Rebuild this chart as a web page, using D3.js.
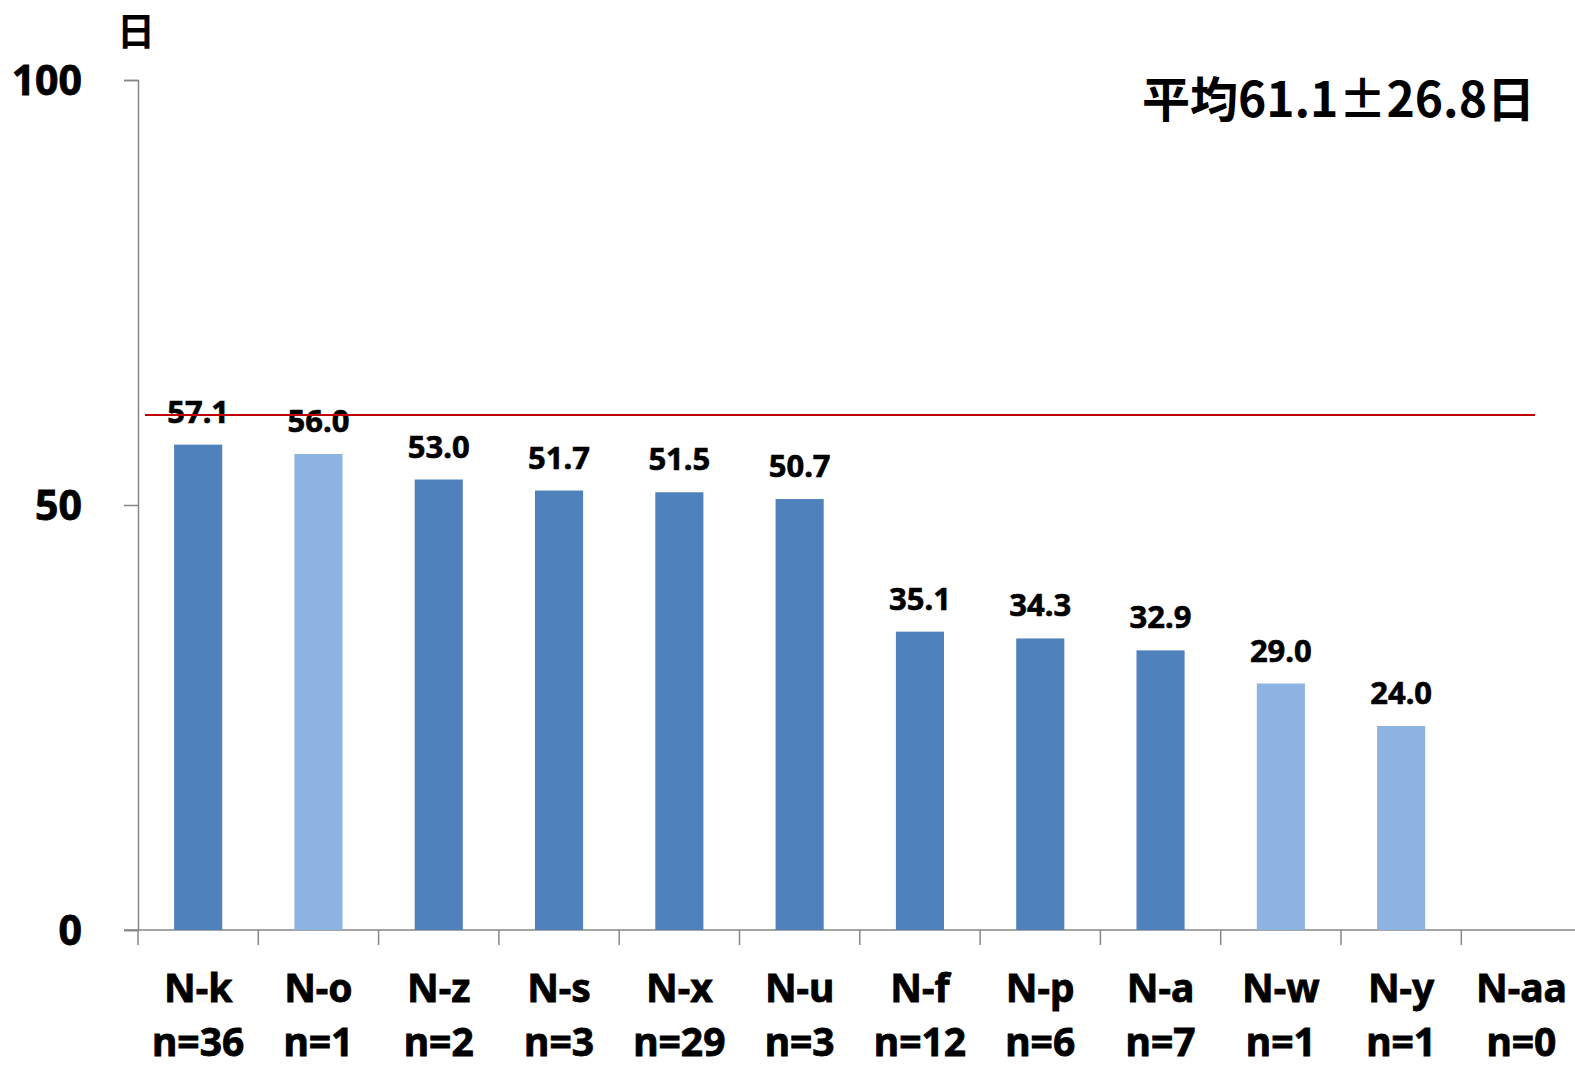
<!DOCTYPE html>
<html>
<head>
<meta charset="utf-8">
<script src="https://cdn.jsdelivr.net/npm/d3@7"></script>
<style>
  body { margin: 0; background: #fff; }
  .val { font-family: "Noto Sans", "Open Sans", sans-serif; font-weight: bold; font-size: 31px; fill: #000; stroke: #000; stroke-width: 0.6px; }
  .cat { font-family: "Noto Sans", "Open Sans", sans-serif; font-weight: bold; font-size: 39px; fill: #000; stroke: #000; stroke-width: 0.8px; }
  .yaxis text { font-family: "Noto Sans", "Open Sans", sans-serif; font-weight: bold; font-size: 41px; fill: #000; stroke: #000; stroke-width: 0.8px; }
  .jp { font-family: "Noto Sans CJK JP", sans-serif; font-weight: bold; fill: #000; }
</style>
</head>
<body>
<div class="chart"></div>
<script>
var categories = ["N-k", "N-o", "N-z", "N-s", "N-x", "N-u", "N-f", "N-p", "N-a", "N-w", "N-y", "N-aa"];
var counts = [36, 1, 2, 3, 29, 3, 12, 6, 7, 1, 1, 0];
var days = [57.1, 56.0, 53.0, 51.7, 51.5, 50.7, 35.1, 34.3, 32.9, 29.0, 24.0, null];
var yTicks = [0, 50, 100];
var meanLine = 60.6;
var meanText = "平均61.1±26.8日";
var yUnit = "日";

var svgWidth = 1575;
var svgHeight = 1068;

var x0 = 138, x1 = 1581.6;
var yTop = 80, yBottom = 930;

var svg = d3
  .select(".chart")
  .append("svg")
  .attr("width", svgWidth)
  .attr("height", svgHeight);

var xScale = d3.scaleBand()
  .domain(categories)
  .range([x0, x1])
  .paddingInner(0.6)
  .paddingOuter(0.3);

var yScale = d3.scaleLinear().domain([0, 100]).range([yBottom, yTop]);

var step = xScale.step();

// y axis
var leftAxis = d3.axisLeft(yScale)
  .tickValues(yTicks)
  .tickSize(14)
  .tickPadding(42)
  .tickFormat(d3.format("d"));

var yAxisG = svg.append("g")
  .attr("class", "yaxis")
  .attr("transform", "translate(" + x0 + ",0)")
  .call(leftAxis);

yAxisG.select(".domain").attr("stroke", "#878787").attr("stroke-width", 1.5);
yAxisG.selectAll(".tick line").attr("stroke", "#878787").attr("stroke-width", 1.5);
yAxisG.selectAll(".tick text").attr("dy", "0.36em");

// x axis line and boundary ticks
svg.append("line")
  .attr("x1", x0 - 14)
  .attr("x2", svgWidth)
  .attr("y1", yScale(0))
  .attr("y2", yScale(0))
  .attr("stroke", "#878787")
  .attr("stroke-width", 1.5);

svg.selectAll(".xtick")
  .data(categories)
  .enter()
  .append("line")
  .attr("class", "xtick")
  .attr("x1", function(d) { return xScale(d) - step * 0.3; })
  .attr("x2", function(d) { return xScale(d) - step * 0.3; })
  .attr("y1", yScale(0))
  .attr("y2", yScale(0) + 15)
  .attr("stroke", "#878787")
  .attr("stroke-width", 1.5);

// bars
var withData = categories.map(function(c, i) {
  return { cat: c, n: counts[i], v: days[i] };
}).filter(function(d) { return d.v != null; });

svg.selectAll(".bar")
  .data(withData)
  .enter()
  .append("rect")
  .attr("class", "bar")
  .attr("x", function(d) { return xScale(d.cat); })
  .attr("width", xScale.bandwidth())
  .attr("y", function(d) { return yScale(d.v); })
  .attr("height", function(d) { return yScale(0) - yScale(d.v); })
  .attr("fill", function(d) { return d.n === 1 ? "#8DB3E2" : "#4F81BD"; });

// value labels
svg.selectAll(".val")
  .data(withData)
  .enter()
  .append("text")
  .attr("class", "val")
  .attr("x", function(d) { return xScale(d.cat) + xScale.bandwidth() / 2; })
  .attr("y", function(d) { return yScale(d.v) - 22; })
  .attr("text-anchor", "middle")
  .text(function(d) { return d.v.toFixed(1); });

// mean line
svg.append("line")
  .attr("x1", x0 + 7)
  .attr("x2", 1535)
  .attr("y1", yScale(meanLine))
  .attr("y2", yScale(meanLine))
  .attr("stroke", "#C00000")
  .attr("stroke-width", 2);

// category labels
var catG = svg.selectAll(".catlabel")
  .data(categories)
  .enter()
  .append("text")
  .attr("class", "cat")
  .attr("text-anchor", "middle");

catG.append("tspan")
  .attr("x", function(d) { return xScale(d) + xScale.bandwidth() / 2; })
  .attr("y", 1002)
  .text(function(d) { return d; });

catG.append("tspan")
  .attr("x", function(d) { return xScale(d) + xScale.bandwidth() / 2; })
  .attr("y", 1056)
  .text(function(d, i) { return "n=" + counts[i]; });

// unit label
svg.append("text")
  .attr("class", "jp")
  .attr("x", 136)
  .attr("y", 45)
  .attr("text-anchor", "middle")
  .style("font-size", "38px")
  .text(yUnit);

// mean text
svg.append("text")
  .attr("class", "jp")
  .attr("x", 1535)
  .attr("y", 117)
  .attr("text-anchor", "end")
  .style("font-size", "48px")
  .text(meanText);
</script>
</body>
</html>
